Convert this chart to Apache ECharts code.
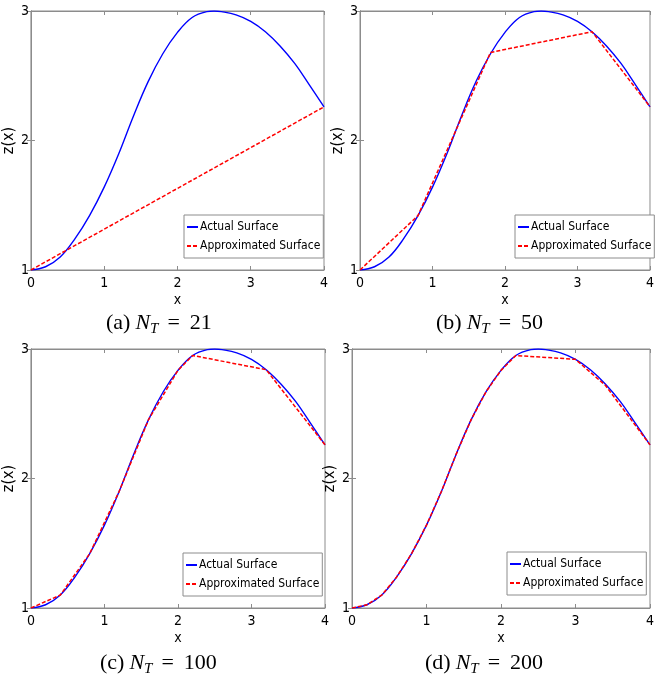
<!DOCTYPE html>
<html>
<head>
<meta charset="utf-8">
<script src="https://cdn.jsdelivr.net/npm/echarts@6/dist/echarts.min.js"></script>
<style>
  html, body { margin: 0; padding: 0; background: #fff; }
  #chart { width: 657px; height: 679px; }
</style>
</head>
<body>
<div id="chart"></div>
<script>
// actual surface z(x)
var actualX = [0, 0.2, 0.4, 0.6, 0.8, 1.0, 1.2, 1.4, 1.6, 1.8, 2.0, 2.2, 2.4, 2.5, 2.6, 2.8, 3.0, 3.2, 3.4, 3.6, 3.8, 4.0]
var actualZ = [1.0, 1.025, 1.10, 1.24, 1.42, 1.64, 1.90, 2.19, 2.455, 2.67, 2.835, 2.95, 2.995, 3.0, 2.995, 2.97, 2.92, 2.84, 2.73, 2.595, 2.43, 2.26]

// approximated surfaces (piecewise linear)
var approxAX = [0, 4]
var approxAZ = [1.0, 2.26]
var approxBX = [0, 0.8, 1.8, 3.2, 4]
var approxBZ = [1.0, 1.42, 2.68, 2.84, 2.26]
var approxCX = [0, 0.4, 0.8, 1.2, 1.6, 2.0, 2.2, 3.2, 4]
var approxCZ = [1.0, 1.10, 1.42, 1.90, 2.455, 2.835, 2.95, 2.84, 2.26]
var approxDX = [0, 0.2, 0.4, 0.6, 0.8, 1.0, 1.2, 1.4, 1.6, 1.8, 2.0, 2.2, 3.0, 3.4, 4]
var approxDZ = [1.0, 1.025, 1.10, 1.24, 1.42, 1.64, 1.90, 2.19, 2.455, 2.67, 2.835, 2.95, 2.92, 2.72, 2.26]

var captionLetters = ['(a)', '(b)', '(c)', '(d)']
var captionNT = ['21', '50', '100', '200']

var sansFont = '"DejaVu Sans Condensed", "Liberation Sans", sans-serif'
var serifFont = '"Liberation Serif", "DejaVu Serif", serif'
var boxColor = '#8c8c8c'

// layout of each panel
var panels = [
  { grid: { left: 29, top: 11, width: 295, height: 259 }, legend: { left: 184, top: 215 }, capX: 106, capY: 312, ax: approxAX, az: approxAZ },
  { grid: { left: 360, top: 11, width: 297, height: 259 }, legend: { left: 515, top: 215 }, capX: 436, capY: 312, ax: approxBX, az: approxBZ },
  { grid: { left: 29, top: 349, width: 296, height: 259 }, legend: { left: 183, top: 553 }, capX: 100, capY: 652, ax: approxCX, az: approxCZ },
  { grid: { left: 352, top: 349, width: 298, height: 259 }, legend: { left: 507, top: 552 }, capX: 425, capY: 652, ax: approxDX, az: approxDZ }
]

function pairs(xs, ys) {
  var out = []
  for (let i = 0; i < xs.length; i++) {
    out.push([xs[i], ys[i]])
  }
  return out
}

function buildOption() {
  var grids = [], xAxes = [], yAxes = [], series = [], legends = [], graphics = []
  panels.forEach(function (p, i) {
    grids.push(Object.assign({ show: true, borderColor: boxColor, borderWidth: 1, backgroundColor: '#fff' }, p.grid))
    // bottom + top x axes
    xAxes.push({
      gridIndex: i, type: 'value', min: 0, max: 4, interval: 1, position: 'bottom',
      name: 'x', nameLocation: 'middle', nameGap: 23,
      nameTextStyle: { fontFamily: sansFont, fontSize: 14, color: '#000' },
      axisLine: { lineStyle: { color: boxColor } },
      axisTick: { inside: true, length: 4, lineStyle: { color: boxColor } },
      axisLabel: { fontFamily: sansFont, fontSize: 14, color: '#000', margin: 6 },
      splitLine: { show: false }
    })
    xAxes.push({
      gridIndex: i, type: 'value', min: 0, max: 4, interval: 1, position: 'top',
      axisLine: { lineStyle: { color: boxColor } },
      axisTick: { inside: true, length: 4, lineStyle: { color: boxColor } },
      axisLabel: { show: false }, splitLine: { show: false }
    })
    yAxes.push({
      gridIndex: i, type: 'value', min: 1, max: 3, interval: 1, position: 'left',
      name: 'z(x)', nameLocation: 'middle', nameGap: 6, nameRotate: 90,
      nameTextStyle: { fontFamily: sansFont, fontSize: 16, color: '#000' },
      axisLine: { lineStyle: { color: boxColor } },
      axisTick: { inside: true, length: 4, lineStyle: { color: boxColor } },
      axisLabel: { fontFamily: sansFont, fontSize: 14, color: '#000', margin: 2 },
      splitLine: { show: false }
    })
    yAxes.push({
      gridIndex: i, type: 'value', min: 1, max: 3, interval: 1, position: 'right',
      axisLine: { lineStyle: { color: boxColor } },
      axisTick: { inside: true, length: 4, lineStyle: { color: boxColor } },
      axisLabel: { show: false }, splitLine: { show: false }
    })
    series.push({
      name: 'Actual Surface', type: 'line', xAxisIndex: 2 * i, yAxisIndex: 2 * i,
      data: pairs(actualX, actualZ), smooth: 0.4, showSymbol: false, symbol: 'none',
      lineStyle: { color: '#0000ff', width: 1.4 }, itemStyle: { color: '#0000ff' },
      silent: true, z: 2
    })
    series.push({
      name: 'Approximated Surface', type: 'line', xAxisIndex: 2 * i, yAxisIndex: 2 * i,
      data: pairs(p.ax, p.az), showSymbol: false, symbol: 'none',
      lineStyle: { color: '#ff0000', width: 1.5, type: [4, 2] }, itemStyle: { color: '#ff0000' },
      silent: true, z: 3
    })
    legends.push({
      left: p.legend.left, top: p.legend.top, orient: 'vertical',
      data: ['Actual Surface', 'Approximated Surface'],
      backgroundColor: '#fff', borderColor: boxColor, borderWidth: 1,
      padding: [6, 3, 6, 2], itemGap: 7, itemWidth: 11, itemHeight: 14,
      itemStyle: { opacity: 0 },
      selectedMode: false,
      textStyle: { fontFamily: sansFont, fontSize: 12, color: '#000', padding: [0, 0, 0, -3] }
    })
    graphics.push({
      type: 'text', left: p.capX, top: p.capY,
      style: {
        text: '{n|' + captionLetters[i] + '}{i|N}{s|T}{e|=}{n|' + captionNT[i] + '}',
        rich: {
          n: { fontFamily: serifFont, fontSize: 22, lineHeight: 28, fill: '#000' },
          i: { fontFamily: serifFont, fontSize: 22, lineHeight: 28, fontStyle: 'italic', fill: '#000', padding: [0, 0, 0, 5] },
          s: { fontFamily: serifFont, fontSize: 15, lineHeight: 15, fontStyle: 'italic', fill: '#000', verticalAlign: 'bottom' },
          e: { fontFamily: serifFont, fontSize: 22, lineHeight: 28, fill: '#000', padding: [0, 10, 0, 9] }
        }
      }
    })
  })
  return {
    animation: false,
    backgroundColor: '#fff',
    grid: grids, xAxis: xAxes, yAxis: yAxes, series: series, legend: legends, graphic: graphics
  }
}

var chart = echarts.init(document.getElementById('chart'))
chart.setOption(buildOption())
</script>
</body>
</html>
